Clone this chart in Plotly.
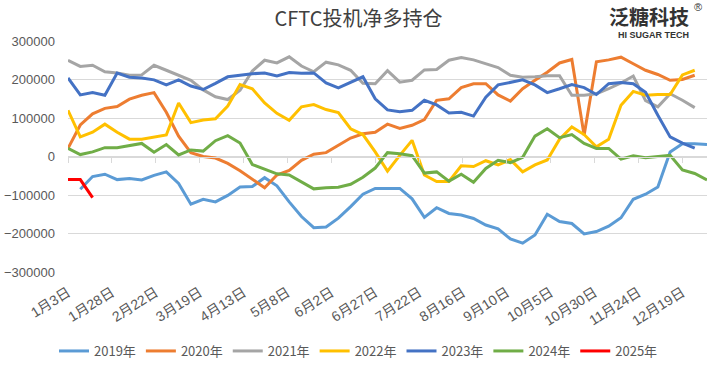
import plotly.graph_objects as go

# ---- data (values in thousands of contracts) ----
tick_days = [0, 25, 50, 75, 100, 125, 150, 175, 200, 225, 250, 275, 300, 325, 350]
tick_labels = ["1月3日", "1月28日", "2月22日", "3月19日", "4月13日", "5月8日", "6月2日",
               "6月27日", "7月22日", "8月16日", "9月10日", "10月5日", "10月30日",
               "11月24日", "12月19日"]

years = ["2019年", "2020年", "2021年", "2022年", "2023年", "2024年", "2025年"]

# first week index of each series
start_week = {"2019年": 1, "2020年": 0, "2021年": 0, "2022年": 0, "2023年": 0, "2024年": 0, "2025年": 0}

v2019 = [-85, -52, -46, -60, -57, -61, -49, -40, -70, -124, -111, -118, -101, -79, -78, -55,
         -76, -118, -156, -185, -183, -160, -130, -98, -83, -83, -83, -110, -158, -133, -148,
         -152, -161, -178, -188, -214, -225, -204, -150, -169, -174, -201, -195, -181, -159,
         -111, -98, -79, 12, 33, 33, 31]
v2020 = [21, 82, 111, 125, 130, 149, 159, 166, 115, 53, 10, 0, -4, -18, -37, -59, -81, -48,
         -36, -10, 6, 10, 30, 48, 59, 63, 84, 73, 81, 96, 146, 150, 179, 189, 189, 160, 144,
         176, 198, 219, 243, 252, 55, 246, 251, 258, 241, 224, 213, 198, 200, 211]
v2021 = [250, 234, 237, 220, 217, 211, 212, 237, 224, 210, 198, 173, 155, 148, 172, 222, 250,
         243, 259, 235, 220, 245, 238, 224, 190, 189, 223, 193, 198, 225, 226, 250, 257, 251,
         241, 231, 211, 206, 207, 210, 210, 159, 159, 163, 176, 191, 209, 145, 129, 163, 146, 127]
v2022 = [120, 51, 63, 84, 63, 45, 45, 51, 56, 139, 88, 95, 98, 131, 187, 176, 139, 112, 94,
         129, 135, 122, 114, 72, 57, 12, -38, 3, 42, -48, -65, -65, -24, -26, -11, -22, -8,
         -40, -22, -9, 45, 77, 57, 25, 45, 133, 169, 159, 161, 161, 212, 224]
v2023 = [204, 160, 166, 159, 217, 206, 204, 199, 186, 199, 183, 174, 190, 207, 211, 215, 217,
         209, 218, 216, 217, 191, 178, 193, 207, 150, 121, 116, 120, 146, 134, 113, 115, 105,
         154, 186, 192, 199, 186, 166, 176, 187, 179, 161, 189, 192, 189, 167, 107, 51, 35, 22]
v2024 = [21, 5, 12, 23, 23, 28, 34, 11, 31, 4, 17, 14, 41, 54, 35, -21, -33, -45, -48, -66,
         -84, -81, -80, -72, -54, -30, 10, 7, 2, -43, -40, -64, -46, -67, -31, -10, -16, -2,
         53, 72, 49, 57, 34, 21, 21, -7, 2, -3, 0, 3, -35, -44, -61]
v2025 = [-60, -60, -107]

values = {"2019年": v2019, "2020年": v2020, "2021年": v2021, "2022年": v2022,
          "2023年": v2023, "2024年": v2024, "2025年": v2025}
colors = {"2019年": "#5B9BD5", "2020年": "#ED7D31", "2021年": "#A5A5A5", "2022年": "#FFC000",
          "2023年": "#4472C4", "2024年": "#70AD47", "2025年": "#FF0000"}

y_ticks = [-300000, -200000, -100000, 0, 100000, 200000, 300000]

FONT = "Liberation Sans, Noto Sans CJK SC, sans-serif"
CJK = "Noto Sans CJK SC, sans-serif"
TXT = "#595959"

fig = go.Figure()
for yr in years:
    vals = values[yr]
    s = start_week[yr]
    xs = [7 * (s + k) for k in range(len(vals))]
    fig.add_trace(go.Scatter(
        x=xs, y=[v * 1000 for v in vals], mode="lines", name=yr,
        line=dict(color=colors[yr], width=3), hoverinfo="skip"))

# helper trace so the zero-line axis (with its tick marks) is drawn
fig.add_trace(go.Scatter(x=[0], y=[0], xaxis="x2", mode="markers",
                         marker=dict(opacity=0), showlegend=False, hoverinfo="skip"))

fig.update_layout(
    width=717, height=370,
    margin=dict(l=68, r=10, t=41, b=98, autoexpand=False),
    paper_bgcolor="white", plot_bgcolor="white",
    font=dict(family=FONT, size=13, color=TXT),
    title=dict(text="CFTC投机净多持仓", x=0.5, xref="container", xanchor="center",
               y=1 - 19 / 370, yref="container", yanchor="middle",
               font=dict(family=CJK, size=20, color="#404040")),
    xaxis=dict(range=[0, 364], tickmode="array", tickvals=tick_days, ticktext=tick_labels,
               tickangle=-32, showgrid=False, zeroline=False, showline=False, ticks="",
               tickfont=dict(family=FONT, size=14, color=TXT),
               ticklabelstandoff=9, automargin=False),
    xaxis2=dict(overlaying="x", anchor="free", position=0.5, side="bottom",
                range=[0, 364], tickmode="array", tickvals=tick_days,
                showticklabels=False, ticks="outside", ticklen=5, tickcolor="#d9d9d9",
                showline=True, linecolor="#d9d9d9", linewidth=1, showgrid=False,
                zeroline=False, automargin=False),
    yaxis=dict(range=[-300000, 300000], tickmode="array", tickvals=y_ticks,
               ticktext=[str(v) if v >= 0 else "\u2212" + str(-v) for v in y_ticks],
               showgrid=True, gridcolor="#d9d9d9", gridwidth=1, zeroline=False,
               showline=False, ticks="", ticklabelstandoff=12, automargin=False,
               tickfont=dict(size=13, color=TXT)),
    legend=dict(orientation="h", x=0.5, xref="container", xanchor="center",
                y=1 - 351 / 370, yref="container", yanchor="middle",
                font=dict(family=CJK, size=13, color=TXT),
                itemwidth=30, tracegroupgap=0),
    showlegend=True,
)

# logo text (paper coords: plot area spans y 41..272 px, x 68..707 px)
def py(pix):
    return (272 - pix) / 231.0

fig.add_annotation(text="<b>泛糖科技</b>", xref="paper", yref="paper", x=1, y=py(17),
                   xanchor="right", yanchor="middle", showarrow=False, xshift=-16,
                   font=dict(family=CJK, size=20, color="#333333"))
fig.add_annotation(text="®", xref="paper", yref="paper", x=1, y=py(7),
                   xanchor="right", yanchor="middle", showarrow=False, xshift=-3,
                   font=dict(family="Liberation Sans, sans-serif", size=11, color="#333333"))
fig.add_annotation(text="<b>HI SUGAR TECH</b>", xref="paper", yref="paper", x=1,
                   y=py(35), xanchor="right", yanchor="middle", showarrow=False,
                   xshift=-16, font=dict(family="Liberation Sans, sans-serif", size=9,
                                         color="#333333"))

fig.write_html("out.html", config={"displayModeBar": False},
               post_script="document.body.style.margin='0px';")
